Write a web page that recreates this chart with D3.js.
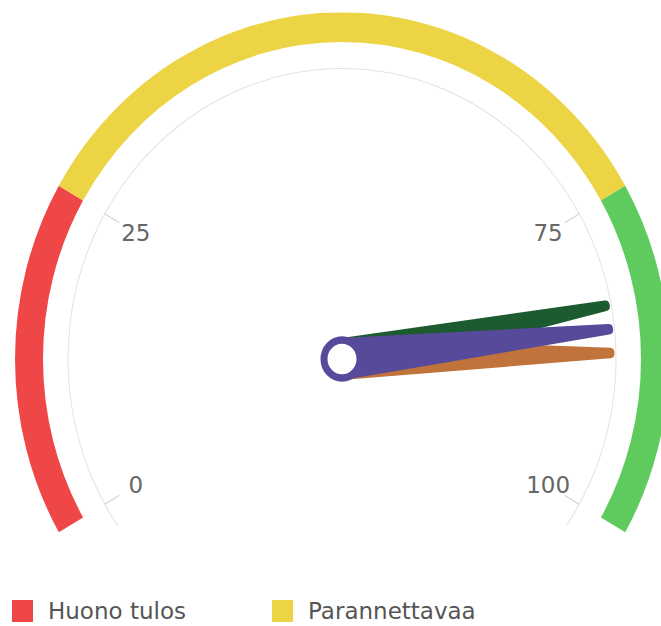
<!DOCTYPE html>
<html>
<head>
<meta charset="utf-8">
<script src="https://cdn.jsdelivr.net/npm/d3@7"></script>
<style>
	html, body { margin: 0; padding: 0; background: #fff; }
	svg { display: block; font-family: "DejaVu Sans", sans-serif; }
</style>
</head>
<body>
<div id="chart"></div>
<script>
'use strict';

// bands of the gauge
const bandNames = ['Huono tulos', 'Parannettavaa', 'Hyvä'];
const bandFrom = [0, 25, 75];
const bandTo = [25, 75, 100];
const bandColors = ['#ef4747', '#edd445', '#5fcb5f'];

// axis ticks
const tickValues = [0, 25, 75, 100];

// needles (drawn in this order)
const needleValues = [83, 87, 85];
const needleColors = ['#1c5a30', '#c0733a', '#574a9b'];

(function () {

	const width = 661;
	const height = 626;
	const cx = 342;
	const cy = 359;
	const sy = 1.06; // the picture is a bit taller than wide

	const angle = d3.scaleLinear().domain([0, 100]).range([-120, 120]);
	const rad = d => angle(d) * Math.PI / 180;

	const pt = (v, r) => [cx + r * Math.sin(rad(v)), cy - r * Math.cos(rad(v)) * sy];

	const svg = d3.select('#chart')
		.append('svg')
		.attr('width', width)
		.attr('height', height);

	const gauge = svg.append('g')
		.attr('transform', `translate(${cx}, ${cy}) scale(1, ${sy})`);

	// plot bands
	const bandArc = d3.arc()
		.innerRadius(299)
		.outerRadius(327)
		.startAngle((d, i) => rad(bandFrom[i]))
		.endAngle((d, i) => rad(bandTo[i]));

	gauge.selectAll('path.band')
		.data(bandNames)
		.enter()
		.append('path')
		.classed('band', true)
		.attr('d', bandArc)
		.style('fill', (d, i) => bandColors[i]);

	// axis line, runs a little past the end ticks
	const axisArc = d3.arc()
		.innerRadius(273.5)
		.outerRadius(274.5)
		.startAngle(-125 * Math.PI / 180)
		.endAngle(125 * Math.PI / 180);

	gauge.append('path')
		.attr('d', axisArc())
		.style('fill', '#e2e2e2');

	// ticks
	svg.selectAll('line.tick')
		.data(tickValues)
		.enter()
		.append('line')
		.classed('tick', true)
		.attr('x1', d => pt(d, 274)[0])
		.attr('y1', d => pt(d, 274)[1])
		.attr('x2', d => pt(d, 257)[0])
		.attr('y2', d => pt(d, 257)[1])
		.style('stroke', '#d4d4d4')
		.style('stroke-width', 1.2);

	svg.selectAll('text.tick-label')
		.data(tickValues)
		.enter()
		.append('text')
		.classed('tick-label', true)
		.attr('x', d => pt(d, 238)[0])
		.attr('y', d => pt(d, 238)[1])
		.attr('dy', '0.36em')
		.style('text-anchor', 'middle')
		.style('font-size', '23px')
		.style('fill', '#666')
		.text(d => d);

	// needles
	const needle = gauge.selectAll('g.needle')
		.data(needleValues)
		.enter()
		.append('g')
		.classed('needle', true)
		.attr('transform', d => `rotate(${angle(d)})`);

	needle.append('path')
		.attr('d', 'M -15.5 4 L -0.5 -268 L 0.5 -268 L 15.5 4 Z')
		.style('fill', (d, i) => needleColors[i])
		.style('stroke', (d, i) => needleColors[i])
		.style('stroke-width', 9)
		.style('stroke-linejoin', 'round');

	// pivot
	gauge.append('circle')
		.attr('r', 18)
		.style('fill', '#fff')
		.style('stroke', '#574a9b')
		.style('stroke-width', 7);

	// legend
	const legendX = [12, 272];
	const legend = svg.selectAll('g.legend')
		.data(bandNames.slice(0, 2))
		.enter()
		.append('g')
		.classed('legend', true)
		.attr('transform', (d, i) => `translate(${legendX[i]}, 600)`);

	legend.append('rect')
		.attr('width', 21)
		.attr('height', 22)
		.style('fill', (d, i) => bandColors[i]);

	legend.append('text')
		.attr('x', 36)
		.attr('y', 19)
		.style('font-size', '23px')
		.style('fill', '#555')
		.text(d => d);

})();
</script>
</body>
</html>
